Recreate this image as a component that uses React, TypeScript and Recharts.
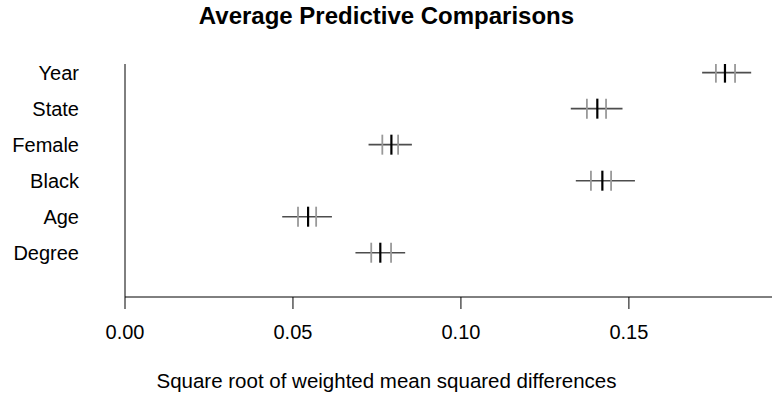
import React from 'react';
import { ScatterChart, Scatter, XAxis, YAxis, ReferenceLine } from 'recharts';

const categories = ['Year', 'State', 'Female', 'Black', 'Age', 'Degree'];
const positions = [6, 5, 4, 3, 2, 1];
const low = [0.1718, 0.1327, 0.0725, 0.1342, 0.0468, 0.0686];
const high = [0.1864, 0.1481, 0.0854, 0.1518, 0.0616, 0.0834];
const q1 = [0.1759, 0.1375, 0.0766, 0.1387, 0.0515, 0.0733];
const median = [0.1786, 0.1406, 0.0793, 0.1421, 0.0545, 0.076];
const q3 = [0.1816, 0.1432, 0.0813, 0.1447, 0.0569, 0.0792];
const xTicks = [0, 0.05, 0.1, 0.15];

const FONT = '"Liberation Sans", Arial, Helvetica, sans-serif';

const q1Data = categories.map((c, i) => ({ name: c, x: q1[i], y: positions[i] }));
const medData = categories.map((c, i) => ({ name: c, x: median[i], y: positions[i] }));
const q3Data = categories.map((c, i) => ({ name: c, x: q3[i], y: positions[i] }));

const makeTick = (color: string, width: number) => (props: any) => {
  const { cx, cy } = props;
  if (cx == null || cy == null) return <g />;
  return <line x1={cx} x2={cx} y1={cy - 10} y2={cy + 10} stroke={color} strokeWidth={width} />;
};

const labelFor = (v: number) => {
  const idx = positions.indexOf(v);
  return idx >= 0 ? categories[idx] : '';
};

export default function App() {
  return (
    <div style={{ position: 'absolute', left: 0, top: 0, width: 773, height: 399, background: '#fff', fontFamily: FONT }}>
      <div
        style={{
          position: 'absolute', left: 0, top: 4, width: 773, textAlign: 'center',
          fontSize: 24, lineHeight: '24px', fontWeight: 'bold', color: '#000',
        }}
      >
        Average Predictive Comparisons
      </div>
      <ScatterChart
        width={773}
        height={399}
        margin={{ top: 64, right: 1, bottom: 42, left: 0 }}
        style={{ fontFamily: FONT }}
      >
        <XAxis
          type="number"
          dataKey="x"
          domain={[0, 0.1926]}
          allowDataOverflow
          ticks={xTicks}
          tickFormatter={(v: number) => v.toFixed(2)}
          height={60}
          tickSize={12}
          tickMargin={16}
          axisLine={{ stroke: '#000', strokeWidth: 1 }}
          tickLine={{ stroke: '#000', strokeWidth: 1 }}
          tick={{ fill: '#000', fontSize: 20, fontFamily: FONT }}
        />
        <YAxis
          type="number"
          dataKey="y"
          domain={[-0.23, 6.24]}
          allowDataOverflow
          ticks={positions}
          tickFormatter={labelFor}
          width={125}
          tickSize={0}
          tickLine={false}
          tickMargin={46}
          axisLine={{ stroke: '#000', strokeWidth: 1 }}
          tick={{ fill: '#000', fontSize: 20, fontFamily: FONT }}
        />
        {categories.map((c, i) => (
          <ReferenceLine
            key={c}
            segment={[{ x: low[i], y: positions[i] }, { x: high[i], y: positions[i] }]}
            stroke="#4d4d4d"
            strokeWidth={1.6}
          />
        ))}
        <Scatter data={q1Data} isAnimationActive={false} shape={makeTick('#999999', 1.8)} />
        <Scatter data={q3Data} isAnimationActive={false} shape={makeTick('#999999', 1.8)} />
        <Scatter data={medData} isAnimationActive={false} shape={makeTick('#000000', 2.2)} />
      </ScatterChart>
      <div
        style={{
          position: 'absolute', left: 0, top: 371, width: 773, textAlign: 'center',
          fontSize: 20.5, lineHeight: '20px', color: '#000',
        }}
      >
        Square root of weighted mean squared differences
      </div>
    </div>
  );
}
